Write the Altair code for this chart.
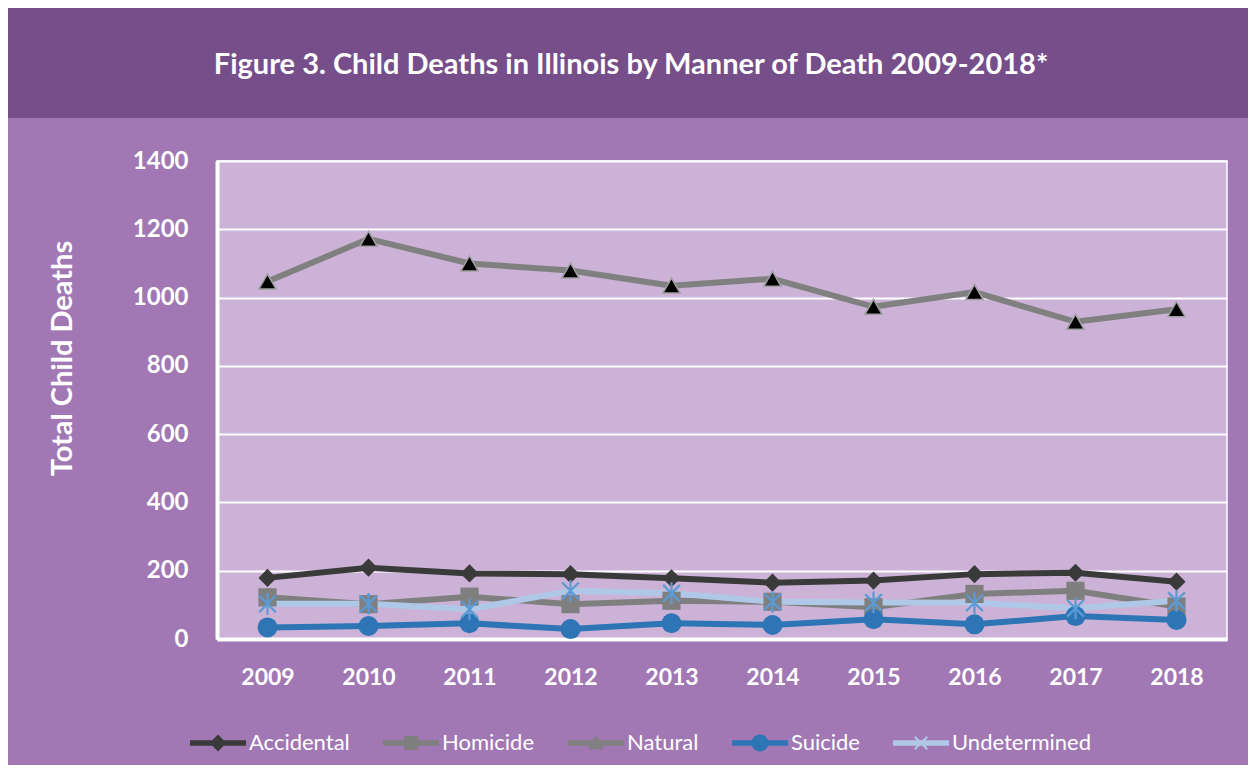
import altair as alt
import pandas as pd

years = ["2009", "2010", "2011", "2012", "2013", "2014", "2015", "2016", "2017", "2018"]
series = ["Accidental", "Homicide", "Natural", "Suicide", "Undetermined"]
accidental = [179, 209, 192, 190, 178, 165, 171, 190, 194, 168]
homicide = [122, 102, 124, 102, 112, 109, 93, 132, 141, 95]
natural = [1047, 1172, 1100, 1079, 1035, 1055, 973, 1016, 929, 966]
suicide = [34, 38, 46, 29, 46, 41, 58, 43, 67, 56]
undetermined = [103, 103, 87, 141, 134, 109, 107, 106, 90, 112]
y_ticks = [0, 200, 400, 600, 800, 1000, 1200, 1400]
title_text = "Figure 3. Child Deaths in Illinois by Manner of Death 2009-2018*"

line_colors = ["#3A3A3A", "#7F7F7F", "#808080", "#2E75B6", "#B0C8E8"]
marker_colors = ["#3A3A3A", "#7F7F7F", "#000000", "#2E75B6", "#5B9BD5"]
marker_shapes = ["diamond", "square", "triangle-up", "circle",
                 "M-1,-1L1,1M1,-1L-1,1M0,-1.3L0,1.3"]
marker_sizes = [330, 330, 300, 400, 280]

LINE = "M-1,-0.1L1,-0.1L1,0.1L-1,0.1Z"
legend_paths = [
    LINE + "M0,-0.3L0.3,0L0,0.3L-0.3,0Z",
    LINE + "M-0.25,-0.25L0.25,-0.25L0.25,0.25L-0.25,0.25Z",
    LINE + "M0,-0.3L0.28,0.22L-0.28,0.22Z",
    LINE + "M-0.3,0A0.3,0.3 0 1,1 0.3,0A0.3,0.3 0 1,1 -0.3,0Z",
    LINE + "M-0.25,-0.2L-0.2,-0.25L0.25,0.2L0.2,0.25Z"
         + "M0.25,-0.2L-0.2,0.25L-0.25,0.2L0.2,-0.25Z",
]

values = [accidental, homicide, natural, suicide, undetermined]
rows = []
for s, vals in zip(series, values):
    for yr, v in zip(years, vals):
        rows.append({"Year": yr, "Series": s, "Deaths": v})
df = pd.DataFrame(rows)

FONT = "Lato"

x_enc = alt.X("Year:O", scale=alt.Scale(type="point", padding=0.5),
              axis=alt.Axis(title=None, labelAngle=0, ticks=False, grid=False,
                            domainColor="white", domainWidth=4,
                            labelColor="white", labelFont=FONT, labelFontSize=23,
                            labelFontWeight="bold", labelPadding=27))
y_enc = alt.Y("Deaths:Q", scale=alt.Scale(domain=[0, 1400], nice=False),
              axis=alt.Axis(title="Total Child Deaths", values=y_ticks, ticks=False,
                            format="d",
                            domainColor="white", domainWidth=4,
                            gridColor="white", gridWidth=2, gridOpacity=1,
                            labelColor="white", labelFont=FONT, labelFontSize=24,
                            labelFontWeight="bold", labelPadding=29,
                            titleColor="white", titleFont=FONT, titleFontSize=29,
                            titleFontWeight="bold", titleX=-155, titleY=197,
                            titleBaseline="middle", titleAngle=270))

base = alt.Chart(df)
one = alt.Chart(pd.DataFrame({"t": [title_text]}))

header = one.mark_rect(color="#764E8A").encode(
    x=alt.value(-209), x2=alt.value(1031), y=alt.value(-153), y2=alt.value(-43)
)
title = one.mark_text(color="white", font=FONT, fontSize=29, fontWeight="bold",
                      align="center", baseline="middle").encode(
    text="t:N", x=alt.value(414), y=alt.value(-96)
)

lines = []
for s, c in zip(series, line_colors):
    lines.append(
        base.transform_filter(alt.datum.Series == s)
        .mark_line(color=c, strokeWidth=6)
        .encode(x=x_enc, y=y_enc)
    )

markers = []
for s, c, sh, sz in zip(series, marker_colors, marker_shapes, marker_sizes):
    if s == "Natural":
        m = base.transform_filter(alt.datum.Series == s).mark_point(
            shape=sh, size=sz, filled=True, fill=c, stroke="#A0A0A0",
            strokeWidth=1.5, opacity=1)
    elif s == "Undetermined":
        m = base.transform_filter(alt.datum.Series == s).mark_point(
            shape=sh, size=sz, filled=False, stroke=c, strokeWidth=2.2, opacity=1)
    else:
        m = base.transform_filter(alt.datum.Series == s).mark_point(
            shape=sh, size=sz, filled=True, color=c, opacity=1)
    markers.append(m.encode(x=x_enc, y=y_enc))

legend_layer = base.transform_filter("false").mark_point(filled=True, opacity=1).encode(
    x=x_enc, y=y_enc,
    color=alt.Color("Series:N", scale=alt.Scale(domain=series, range=line_colors),
                    legend=alt.Legend(title=None, orient="none", legendX=-27,
                                      legendY=554, direction="horizontal",
                                      columns=5, columnPadding=33,
                                      symbolSize=3136, symbolOpacity=1,
                                      symbolStrokeWidth=0, labelOffset=3,
                                      labelColor="white", labelFont=FONT,
                                      labelFontSize=22)),
    shape=alt.Shape("Series:N", scale=alt.Scale(domain=series, range=legend_paths)),
)

chart = alt.layer(header, title, *lines, *markers, legend_layer).properties(
    width=1010, height=478,
    autosize=alt.AutoSizeParams(type="none"),
    padding={"left": 209, "top": 153, "right": 21, "bottom": 126},
).configure(background="#A178B3").configure_view(
    fill="#CBB2D6", stroke="white", strokeWidth=1.5
)

chart.save("out.html", embed_options={"renderer": "svg", "actions": False})
